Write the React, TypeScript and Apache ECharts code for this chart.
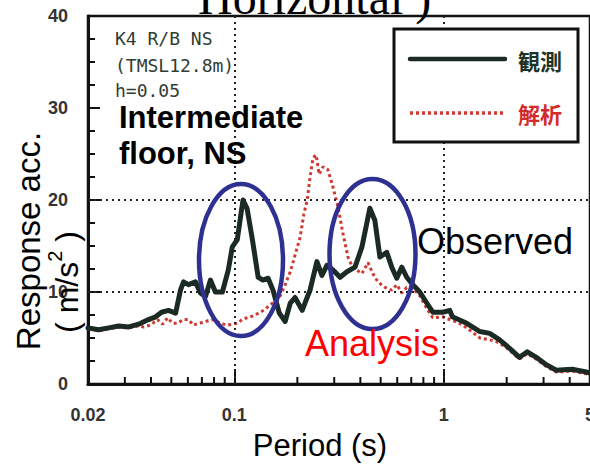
import React, { useEffect, useRef } from "react";
import * as echarts from "echarts";

// Observed (観測) response spectrum: period (s) and response acceleration (m/s^2)
const obsPeriod = [
  0.02, 0.0225, 0.0251, 0.028, 0.0313, 0.0349, 0.0389, 0.0421, 0.0449, 0.0485,
  0.0524, 0.0553, 0.0572, 0.0604, 0.0652, 0.0689, 0.0728, 0.0769, 0.0812, 0.0877,
  0.0936, 0.0978, 0.1033, 0.11, 0.115, 0.122, 0.13, 0.137, 0.145, 0.153,
  0.164, 0.175, 0.185, 0.195, 0.211, 0.22, 0.23, 0.248, 0.262, 0.277,
  0.296, 0.32, 0.345, 0.377, 0.407, 0.444, 0.469, 0.496, 0.535, 0.565,
  0.597, 0.631, 0.666, 0.712, 0.769, 0.83, 0.887, 0.989, 1.07, 1.1,
  1.29, 1.49, 1.66, 1.85, 2.06, 2.3, 2.51, 2.77, 3.09, 3.45,
  4.11, 4.8, 5.0,
];
const obsAcc = [
  6.1, 5.9, 6.1, 6.3, 6.2, 6.5, 7.0, 7.3, 7.8, 8.0,
  7.7, 10.2, 11.1, 10.8, 11.1, 9.9, 9.5, 11.3, 10.0, 10.0,
  12.4, 14.9, 15.7, 20.0, 19.1, 15.7, 11.6, 11.3, 11.5, 10.2,
  7.7, 6.8, 8.8, 9.4, 8.0, 9.1, 10.2, 13.3, 11.8, 12.9,
  12.4, 11.6, 12.2, 12.7, 14.9, 19.1, 17.8, 13.8, 14.3, 12.7,
  11.5, 12.7, 11.6, 10.8, 10.0, 8.8, 7.8, 7.8, 8.0, 7.3,
  6.6, 5.7, 5.5, 4.8, 3.9, 2.9, 3.5, 2.9, 2.1, 1.5,
  1.6, 1.3, 1.2,
];

// Analysis (解析) response spectrum
const anaPeriod = [
  0.02, 0.0225, 0.0251, 0.028, 0.0313, 0.0349, 0.0369, 0.0398, 0.043, 0.0454,
  0.048, 0.0507, 0.0535, 0.0572, 0.0604, 0.0638, 0.0674, 0.0712, 0.0752, 0.0794,
  0.0858, 0.0926, 0.0978, 0.1033, 0.109, 0.115, 0.123, 0.133, 0.14, 0.148,
  0.157, 0.166, 0.175, 0.185, 0.195, 0.206, 0.215, 0.223, 0.23, 0.238,
  0.246, 0.254, 0.265, 0.28, 0.296, 0.313, 0.33, 0.349, 0.369, 0.389,
  0.407, 0.435, 0.459, 0.485, 0.524, 0.565, 0.597, 0.631, 0.666, 0.712,
  0.769, 0.83, 0.887, 0.989, 1.07, 1.17, 1.29, 1.49, 1.66, 1.79,
  1.95, 2.06, 2.3, 2.51, 2.77, 3.09, 3.45, 4.11, 4.8, 5.0,
];
const anaAcc = [
  6.0, 5.8, 6.0, 6.2, 6.1, 6.3, 6.2, 6.4, 7.0, 6.5,
  7.2, 6.6, 6.6, 7.0, 7.0, 6.4, 6.6, 6.7, 6.9, 7.0,
  6.6, 6.4, 6.5, 6.6, 7.0, 7.2, 7.4, 7.8, 8.1, 8.6,
  9.0, 9.6, 10.8, 12.2, 14.0, 15.9, 18.5, 20.0, 22.5, 24.6,
  24.9, 22.8, 23.6, 23.3, 21.4, 19.2, 16.4, 13.8, 12.6, 12.3,
  12.0, 13.2, 12.0, 11.1, 10.5, 10.2, 10.8, 9.9, 10.5, 10.4,
  9.6, 8.2, 7.2, 7.3, 7.0, 6.7, 6.1, 5.0, 4.8, 4.6,
  4.1, 3.7, 2.7, 3.3, 2.7, 1.9, 1.3, 1.4, 1.1, 1.0,
];

const xMin = 0.02;
const xMax = 5;
const xMinorTicks = [
  0.03, 0.04, 0.05, 0.06, 0.07, 0.08, 0.09,
  0.2, 0.3, 0.4, 0.5, 0.6, 0.7, 0.8, 0.9,
  2, 3, 4,
];
const xGridLines = [0.1, 1];
const yGridLines = [10, 20];
const yMin = 0;
const yMax = 40;
const yInterval = 10;

const SANS = '"Liberation Sans", Arial, Helvetica, sans-serif';
const SERIF = '"Liberation Serif", "Times New Roman", serif';
const MONO = '"DejaVu Sans Mono", "Liberation Mono", monospace';
const CJK = '"Noto Sans CJK JP", "Noto Sans CJK SC", sans-serif';

export default function App() {
  const ref = useRef<HTMLDivElement>(null);

  useEffect(() => {
    if (!ref.current) return;
    const chart = echarts.init(ref.current, null, { renderer: "svg" });

    const obsData = obsPeriod.map((p, i) => [p, obsAcc[i]]);
    const anaData = anaPeriod.map((p, i) => [p, anaAcc[i]]);

    const option: any = {
      animation: false,
      backgroundColor: "#ffffff",
      grid: {
        left: 88,
        right: 0,
        top: 16,
        bottom: 80,
        containLabel: false,
        outerBoundsMode: "none",
        show: true,
        borderColor: "#111",
        borderWidth: 2.5,
        backgroundColor: "transparent",
      },
      xAxis: {
        type: "log",
        logBase: 10,
        min: xMin,
        max: xMax,
        axisLine: { show: true, onZero: false, lineStyle: { color: "#111", width: 3 } },
        axisTick: { show: true, inside: true, length: 15, lineStyle: { color: "#111", width: 2 } },
        minorTick: { show: false },
        axisLabel: {
          show: true,
          interval: 0,
          margin: 22,
          fontSize: 18,
          fontWeight: "bold",
          color: "#333",
          fontFamily: SANS,
          formatter: (v: number) => String(+Number(v).toPrecision(3)),
        },
        splitLine: { show: false },
      },
      yAxis: {
        type: "value",
        min: yMin,
        max: yMax,
        interval: yInterval,
        axisLine: { show: true, lineStyle: { color: "#111", width: 3 } },
        axisTick: { show: true, inside: true, length: 12, lineStyle: { color: "#111", width: 2 } },
        minorTick: { show: true, splitNumber: 4, length: 7, lineStyle: { color: "#111", width: 2 } },
        axisLabel: { margin: 20, fontSize: 18, fontWeight: "bold", color: "#333", fontFamily: SANS },
        splitLine: { show: false },
      },
      series: [
        {
          name: "grid",
          type: "line",
          data: [],
          silent: true,
          z: 1,
          markLine: {
            silent: true,
            symbol: "none",
            label: { show: false },
            lineStyle: { color: "#222", width: 2, type: [2, 4] },
            data: [
              ...xGridLines.map((v) => ({ xAxis: v })),
              ...yGridLines.map((v) => ({ yAxis: v })),
            ],
          },
        },
        {
          name: "minorTicks",
          type: "custom",
          silent: true,
          z: 3,
          data: xMinorTicks.map((v) => [v, 0]),
          renderItem: (_params: any, api: any) => {
            const p = api.coord([api.value(0), api.value(1)]);
            return {
              type: "line",
              shape: { x1: p[0], y1: p[1], x2: p[0], y2: p[1] - 7 },
              style: { stroke: "#111", lineWidth: 2 },
            };
          },
        },
        {
          name: "解析",
          type: "line",
          data: anaData,
          showSymbol: false,
          symbol: "none",
          z: 4,
          lineStyle: { color: "#d03a32", width: 3, type: [3, 3] },
        },
        {
          name: "観測",
          type: "line",
          data: obsData,
          showSymbol: false,
          symbol: "none",
          z: 5,
          lineStyle: { color: "#1b2a22", width: 5, join: "round", cap: "round" },
        },
      ],
      graphic: [
        {
          type: "text",
          z: 50,
          x: 198,
          y: -3,
          style: {
            text: "Horizontal )",
            fontFamily: SERIF,
            fontSize: 48,
            fill: "#000",
            align: "left",
            verticalAlign: "middle",
          },
        },
        // info text
        {
          type: "text",
          z: 50,
          x: 115,
          y: 38,
          style: { text: "K4 R/B NS", fontFamily: MONO, fontSize: 18, fill: "#2f3d35", align: "left", verticalAlign: "middle" },
        },
        {
          type: "text",
          z: 50,
          x: 115,
          y: 65,
          style: { text: "(TMSL12.8m)", fontFamily: MONO, fontSize: 18, fill: "#2f3d35", align: "left", verticalAlign: "middle" },
        },
        {
          type: "text",
          z: 50,
          x: 115,
          y: 90,
          style: { text: "h=0.05", fontFamily: MONO, fontSize: 18, fill: "#2f3d35", align: "left", verticalAlign: "middle" },
        },
        {
          type: "text",
          z: 50,
          x: 119,
          y: 117,
          style: { text: "Intermediate", fontFamily: SANS, fontSize: 31, fontWeight: "bold", fill: "#000", align: "left", verticalAlign: "middle" },
        },
        {
          type: "text",
          z: 50,
          x: 119,
          y: 153,
          style: { text: "floor, NS", fontFamily: SANS, fontSize: 31, fontWeight: "bold", fill: "#000", align: "left", verticalAlign: "middle" },
        },
        // legend box
        {
          type: "rect",
          z: 60,
          shape: { x: 394, y: 29, width: 184, height: 113 },
          style: { fill: "#fff", stroke: "#111", lineWidth: 3 },
        },
        {
          type: "line",
          z: 61,
          shape: { x1: 410, y1: 59, x2: 505, y2: 59 },
          style: { stroke: "#1b2a22", lineWidth: 4.5, lineCap: "round" },
        },
        {
          type: "text",
          z: 61,
          x: 518,
          y: 60,
          style: { text: "観測", fontFamily: CJK, fontSize: 22, fontWeight: "bold", fill: "#1e3328", align: "left", verticalAlign: "middle" },
        },
        {
          type: "line",
          z: 61,
          shape: { x1: 410, y1: 113, x2: 505, y2: 113 },
          style: { stroke: "#d03a32", lineWidth: 3.5, lineDash: [3, 3] },
        },
        {
          type: "text",
          z: 61,
          x: 518,
          y: 113,
          style: { text: "解析", fontFamily: CJK, fontSize: 22, fontWeight: "bold", fill: "#d42a2a", align: "left", verticalAlign: "middle" },
        },
        // annotations
        {
          type: "ellipse",
          z: 70,
          shape: { cx: 241, cy: 260, rx: 42, ry: 76 },
          style: { fill: "none", stroke: "#2e3192", lineWidth: 4.5 },
        },
        {
          type: "ellipse",
          z: 70,
          shape: { cx: 372.5, cy: 254, rx: 43, ry: 75 },
          style: { fill: "none", stroke: "#2e3192", lineWidth: 4.5 },
        },
        {
          type: "text",
          z: 70,
          x: 417,
          y: 241,
          style: { text: "Observed", fontFamily: SANS, fontSize: 36, fill: "#000", align: "left", verticalAlign: "middle" },
        },
        {
          type: "text",
          z: 70,
          x: 305,
          y: 343,
          style: { text: "Analysis", fontFamily: SANS, fontSize: 36, fill: "#ff0000", align: "left", verticalAlign: "middle" },
        },
        {
          type: "text",
          z: 70,
          x: 320,
          y: 445,
          style: { text: "Period (s)", fontFamily: SANS, fontSize: 31, fill: "#000", align: "center", verticalAlign: "middle" },
        },
        {
          type: "text",
          z: 70,
          x: 28,
          y: 241,
          rotation: Math.PI / 2,
          style: { text: "Response acc.", fontFamily: SANS, fontSize: 33, fill: "#000", align: "center", verticalAlign: "middle" },
        },
        {
          type: "text",
          z: 70,
          x: 67,
          y: 282,
          rotation: Math.PI / 2,
          style: {
            text: "{a|( m/s}{s|2}{a| )}",
            fontFamily: SANS,
            fill: "#000",
            align: "center",
            verticalAlign: "middle",
            rich: {
              a: { fontSize: 32, fontFamily: SANS, fill: "#000", lineHeight: 44 },
              s: { fontSize: 20, fontFamily: SANS, fill: "#000", verticalAlign: "top", lineHeight: 20 },
            },
          },
        },
      ],
    };

    chart.setOption(option);
    return () => {
      chart.dispose();
    };
  }, []);

  return (
    <div
      ref={ref}
      style={{ position: "fixed", left: 0, top: 0, width: 590, height: 464, background: "#fff" }}
    />
  );
}
